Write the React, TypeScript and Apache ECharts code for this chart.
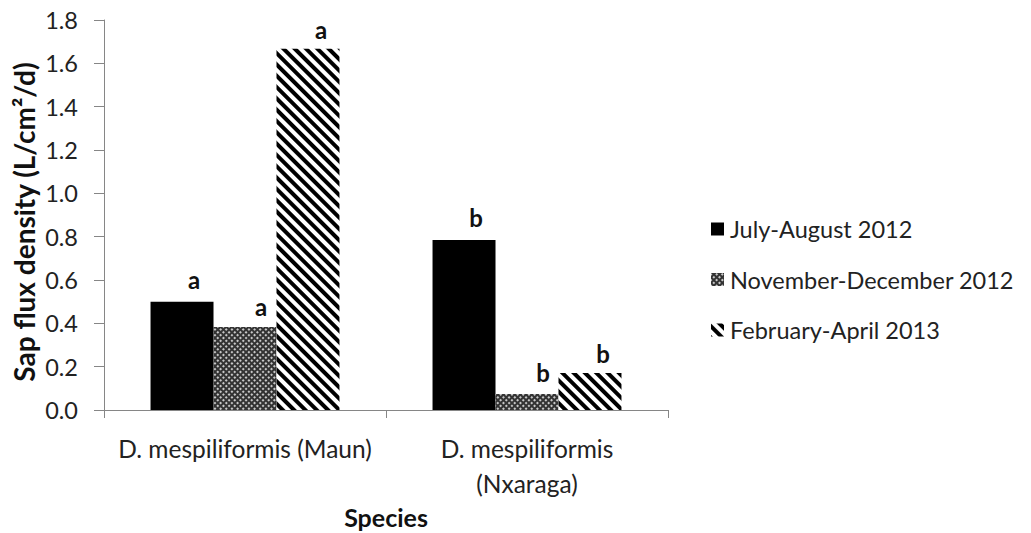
import React, { useEffect, useRef } from "react";
import * as echarts from "echarts";

const categories = ["D. mespiliformis (Maun)", "D. mespiliformis\n(Nxaraga)"];
const seriesNames = ["July-August 2012", "November-December 2012", "February-April 2013"];
const julyAug = [0.5, 0.785];
const novDec = [0.383, 0.074];
const febApr = [1.667, 0.171];
const julyAugLetters = ["a", "b"];
const novDecLetters = ["a", "b"];
const febAprLetters = ["a", "b"];
const yTicks = { min: 0, max: 1.8, interval: 0.2 };
const xAxisTitle = "Species";
const yAxisTitle = "Sap flux density (L/cm²/d)";

const FONT = "Lato";

export default function App() {
  const ref = useRef<HTMLDivElement>(null);
  useEffect(() => {
    if (!ref.current) return;
    const chart = echarts.init(ref.current, undefined, { renderer: "svg" });
    const labelCfg = (letters: string[], offset: number[]) => ({
      show: true,
      position: "top" as const,
      offset,
      formatter: (p: any) => letters[p.dataIndex],
      fontFamily: FONT,
      fontWeight: "bold" as const,
      fontSize: 24,
      color: "#111",
    });
    const option: any = {
      animation: false,
      backgroundColor: "#fff",
      textStyle: { fontFamily: FONT },
      grid: { left: 104, right: 363, top: 20, bottom: 123, containLabel: false },
      graphic: [
        {
          type: "text",
          x: 386,
          y: 517,
          style: {
            text: xAxisTitle,
            fontFamily: FONT,
            fontSize: 25,
            fontWeight: "bold",
            fill: "#111",
            textAlign: "center",
            textVerticalAlign: "middle",
          },
        },
      ],
      legend: {
        orient: "vertical",
        left: 706,
        top: 212,
        itemWidth: 13,
        itemHeight: 13,
        itemGap: 26.5,
        icon: "rect",
        textStyle: { fontFamily: FONT, fontSize: 23.5, color: "#222", padding: [0, 0, 0, 1] },
        data: seriesNames,
      },
      xAxis: {
        type: "category",
        data: categories,
        axisLine: { lineStyle: { color: "#868686", width: 1 } },
        axisTick: { show: true, length: 8, lineStyle: { color: "#868686" } },
        axisLabel: { fontFamily: FONT, fontSize: 24.5, color: "#222", margin: 21, lineHeight: 35, interval: 0 },
      },
      yAxis: {
        type: "value",
        min: yTicks.min,
        max: yTicks.max,
        interval: yTicks.interval,
        name: yAxisTitle,
        nameLocation: "middle",
        nameGap: 66,
        nameMoveOverlap: false,
        nameTextStyle: {
          fontFamily: FONT,
          fontSize: 28,
          fontWeight: "bold",
          color: "#111",
          padding: [0, 14, 0, 0],
        },
        axisLine: { show: true, lineStyle: { color: "#868686", width: 1 } },
        axisTick: { show: true, length: 10, lineStyle: { color: "#868686" } },
        splitLine: { show: false },
        axisLabel: {
          fontFamily: FONT,
          fontSize: 23.5,
          color: "#222",
          margin: 26,
          formatter: (v: number) => v.toFixed(1),
        },
      },
      series: [
        {
          name: seriesNames[0],
          type: "bar",
          data: julyAug,
          barGap: "0%",
          barCategoryGap: "33%",
          itemStyle: { color: "#000" },
          label: labelCfg(julyAugLetters, [12, -5]),
        },
        {
          name: seriesNames[1],
          type: "bar",
          data: novDec,
          itemStyle: {
            color: "#333",
            decal: {
              symbol: "rect",
              symbolSize: 1,
              color: "#c8c8c8",
              dashArrayX: [1.3, 1.3],
              dashArrayY: [1.3, 1.3],
              rotation: Math.PI / 4,
            },
          },
          label: labelCfg(novDecLetters, [16, -4]),
        },
        {
          name: seriesNames[2],
          type: "bar",
          data: febApr,
          itemStyle: {
            color: "#fff",
            decal: {
              symbol: "rect",
              symbolSize: 1,
              color: "#000",
              dashArrayX: [1, 0],
              dashArrayY: [3.2, 3.2],
              rotation: Math.PI / 4,
            },
          },
          label: labelCfg(febAprLetters, [13, -2]),
        },
      ],
    };
    chart.setOption(option);
    return () => chart.dispose();
  }, []);
  return (
    <div
      ref={ref}
      style={{ position: "absolute", left: 0, top: 0, width: 1031, height: 533 }}
    />
  );
}
